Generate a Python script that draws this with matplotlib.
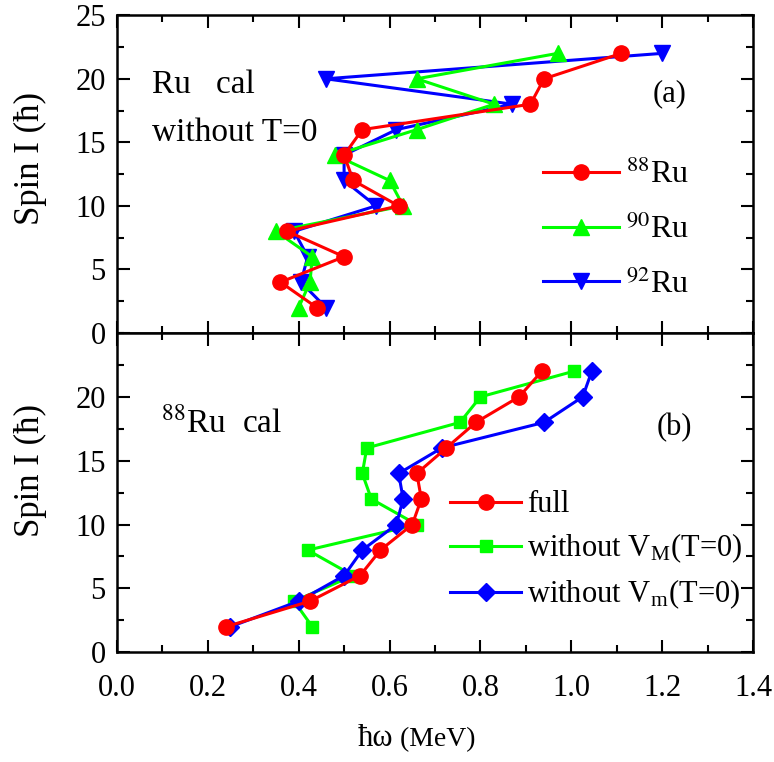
import matplotlib
matplotlib.use("Agg")
import matplotlib.pyplot as plt
from matplotlib.ticker import MultipleLocator

plt.rcParams['font.family'] = ['Liberation Serif', 'DejaVu Serif']
plt.rcParams['mathtext.fontset'] = 'stix'

# spin values (hbar)
spin = [2, 4, 6, 8, 10, 12, 14, 16, 18, 20, 22]

# (a) Ru cal without T=0, rotational frequency (MeV)
w_ru88 = [0.44, 0.36, 0.50, 0.375, 0.62, 0.52, 0.50, 0.54, 0.91, 0.94, 1.11]
w_ru90 = [0.40, 0.425, 0.43, 0.35, 0.63, 0.60, 0.48, 0.66, 0.83, 0.66, 0.97]
w_ru92 = [0.46, 0.405, 0.42, 0.39, 0.57, 0.50, 0.50, 0.615, 0.87, 0.46, 1.20]

# (b) 88Ru cal
w_full = [0.24, 0.425, 0.535, 0.58, 0.65, 0.67, 0.66, 0.725, 0.79, 0.885, 0.935]
w_noVM = [0.43, 0.39, 0.52, 0.42, 0.66, 0.56, 0.54, 0.55, 0.755, 0.80, 1.005]
w_noVm = [0.25, 0.40, 0.50, 0.54, 0.615, 0.63, 0.62, 0.715, 0.94, 1.025, 1.045]

RED = '#ff0000'
GREEN = '#00ff00'
BLUE = '#0000ff'

fig = plt.figure(figsize=(7.74, 7.62), dpi=100)
ax1 = fig.add_axes([0.151, 0.563, 0.822, 0.417])
ax2 = fig.add_axes([0.151, 0.144, 0.822, 0.419])


def style_axis(ax):
    ax.set_xlim(0, 1.4)
    ax.set_ylim(0, 25)
    ax.xaxis.set_major_locator(MultipleLocator(0.2))
    ax.xaxis.set_minor_locator(MultipleLocator(0.1))
    ax.yaxis.set_major_locator(MultipleLocator(5))
    ax.yaxis.set_minor_locator(MultipleLocator(2.5))
    ax.tick_params(which='both', direction='in', top=True, right=True, width=1.5)
    ax.tick_params(which='major', length=9, labelsize=22)
    ax.tick_params(which='minor', length=5)
    ax.tick_params(axis='y', pad=8)
    ax.tick_params(axis='x', pad=16)
    for s in ax.spines.values():
        s.set_linewidth(1.8)


lw = 2.2
ax1.plot(w_ru88, spin, '-o', color=RED, lw=lw, ms=11, label=r'$^{88}$Ru', zorder=5)
ax1.plot(w_ru90, spin, '-^', color=GREEN, lw=lw, ms=11, label=r'$^{90}$Ru', zorder=4)
ax1.plot(w_ru92, spin, '-v', color=BLUE, lw=lw, ms=11, label=r'$^{92}$Ru', zorder=3)
style_axis(ax1)
ax1.tick_params(labelbottom=False)
ax1.set_ylabel('Spin I (ħ)', fontsize=25)
ax1.yaxis.set_label_coords(-0.11, 0.55)
ax1.text(0.055, 0.755, 'Ru   cal', transform=ax1.transAxes, fontsize=24)
ax1.text(0.055, 0.604, 'without T=0', transform=ax1.transAxes, fontsize=24)
ax1.text(0.842, 0.73, '(a)', transform=ax1.transAxes, fontsize=22)
ax1.legend(loc='upper left', bbox_to_anchor=(0.649, 0.585), frameon=False,
           fontsize=23, handlelength=2.4, handletextpad=0.2, labelspacing=0.75,
           borderaxespad=0)

ax2.plot(w_full, spin, '-o', color=RED, lw=lw, ms=11, label='full', zorder=5)
ax2.plot(w_noVM, spin, '-s', color=GREEN, lw=lw, ms=8.5,
         label=r'without V$_\mathregular{M}$(T=0)', zorder=3)
ax2.plot(w_noVm, spin, '-D', color=BLUE, lw=lw, ms=9,
         label=r'without V$_\mathregular{m}$(T=0)', zorder=4)
style_axis(ax2)
ax2.set_yticks([0, 5, 10, 15, 20])
ax2.set_ylabel('Spin I (ħ)', fontsize=25)
ax2.yaxis.set_label_coords(-0.11, 0.57)
ax2.text(0.07, 0.69, r'$^{88}$Ru  cal', transform=ax2.transAxes, fontsize=24)
ax2.text(0.848, 0.68, '(b)', transform=ax2.transAxes, fontsize=22)
ax2.legend(loc='upper left', bbox_to_anchor=(0.505, 0.545), frameon=False,
           fontsize=22, handlelength=2.3, handletextpad=0.2, labelspacing=0.4,
           borderaxespad=0)

fig.text(0.508, 0.021, 'ħω', fontsize=22, ha='right', va='baseline')
fig.text(0.508, 0.021, ' (MeV)', fontsize=20, ha='left', va='baseline')

fig.savefig('out.png', dpi=100)
